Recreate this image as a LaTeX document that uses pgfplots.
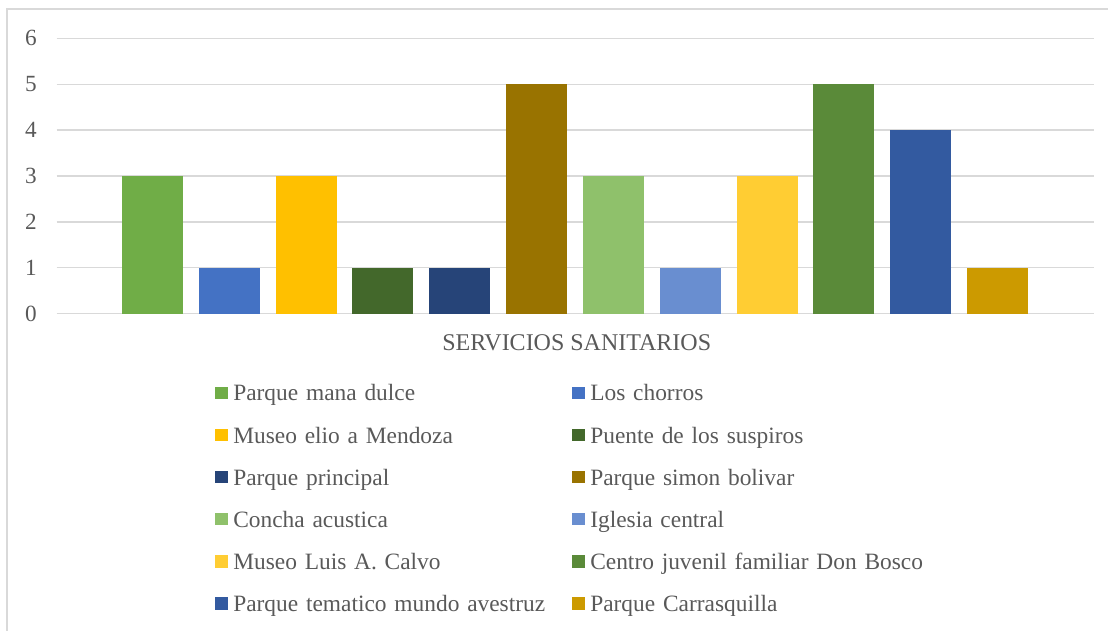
\documentclass[border=0pt]{standalone}
\usepackage{fontspec}
\setmainfont{Liberation Serif}
\usepackage{pgfplots}
\pgfplotsset{compat=1.18}
\definecolor{txt}{HTML}{595959}
\definecolor{gridgray}{HTML}{D9D9D9}
\definecolor{c1}{HTML}{70AD47}
\definecolor{c2}{HTML}{4472C4}
\definecolor{c3}{HTML}{FFC000}
\definecolor{c4}{HTML}{43682B}
\definecolor{c5}{HTML}{264478}
\definecolor{c6}{HTML}{997300}
\definecolor{c7}{HTML}{8FC16B}
\definecolor{c8}{HTML}{698ED0}
\definecolor{c9}{HTML}{FFCD33}
\definecolor{c10}{HTML}{5A8A39}
\definecolor{c11}{HTML}{335AA0}
\definecolor{c12}{HTML}{CC9A00}
\pgfplotsset{
  mybar/.style={ybar, bar width=0.794, bar shift=0pt, draw=none, fill=#1,
    legend image code/.code={\fill[fill=#1, draw=none] (0pt,0.9pt) rectangle (6.2pt,7.1pt); \path (9pt,0pt);}},
}
\begin{document}
\begin{tikzpicture}
\useasboundingbox (-28.35pt,-158.65pt) rectangle (525.65pt,156.85pt);
\draw[color=gridgray, line width=0.8pt] (530pt,152.45pt) -- (-24.95pt,152.45pt) -- (-24.95pt,-165pt);
\begin{axis}[
  at={(0pt,0pt)}, anchor=south west, scale only axis,
  width=518.65pt, height=137.7pt,
  xmin=-1.247, xmax=12.256, ymin=0, ymax=6,
  ytick={0,1,2,3,4,5,6}, xtick=\empty,
  axis line style={draw=none}, major tick length=0pt,
  ymajorgrids, grid style={gridgray, line width=0.65pt},
  /pgf/number format/assume math mode=true,
  tick label style={font=\fontsize{11.6}{13}\selectfont, text=txt},
  yticklabel style={xshift=-6.5pt},
  xlabel={SERVICIOS SANITARIOS},
  xlabel style={at={(axis description cs:0.5,0)}, anchor=center, yshift=-14.4pt, xshift=0.7pt,
    font=\fontsize{12}{14}\selectfont, text=txt, inner sep=0pt},
  legend columns=2,
  legend style={at={(0.1529,-0.2574)}, anchor=north west, draw=none, fill=none,
    inner sep=0pt, outer sep=0pt, column sep=0pt, row sep=10.05pt,
    font=\fontsize{11.7}{14}\selectfont, text=txt,
    cells={anchor=base west},
    nodes={inner sep=0pt, text width=169.5pt, text height=8.2pt, text depth=2.8pt, align=left}},
]
\addplot[mybar=c1] coordinates {(0,3)};
\addlegendentry{Parque mana dulce}
\addplot[mybar=c2] coordinates {(1,1)};
\addlegendentry{Los chorros}
\addplot[mybar=c3] coordinates {(2,3)};
\addlegendentry{Museo elio a Mendoza}
\addplot[mybar=c4] coordinates {(3,1)};
\addlegendentry{Puente de los suspiros}
\addplot[mybar=c5] coordinates {(4,1)};
\addlegendentry{Parque principal}
\addplot[mybar=c6] coordinates {(5,5)};
\addlegendentry{Parque simon bolivar}
\addplot[mybar=c7] coordinates {(6,3)};
\addlegendentry{Concha acustica}
\addplot[mybar=c8] coordinates {(7,1)};
\addlegendentry{Iglesia central}
\addplot[mybar=c9] coordinates {(8,3)};
\addlegendentry{Museo Luis A. Calvo}
\addplot[mybar=c10] coordinates {(9,5)};
\addlegendentry{Centro juvenil familiar Don Bosco}
\addplot[mybar=c11] coordinates {(10,4)};
\addlegendentry{Parque tematico mundo avestruz}
\addplot[mybar=c12] coordinates {(11,1)};
\addlegendentry{Parque Carrasquilla}
\end{axis}
\end{tikzpicture}
\end{document}
